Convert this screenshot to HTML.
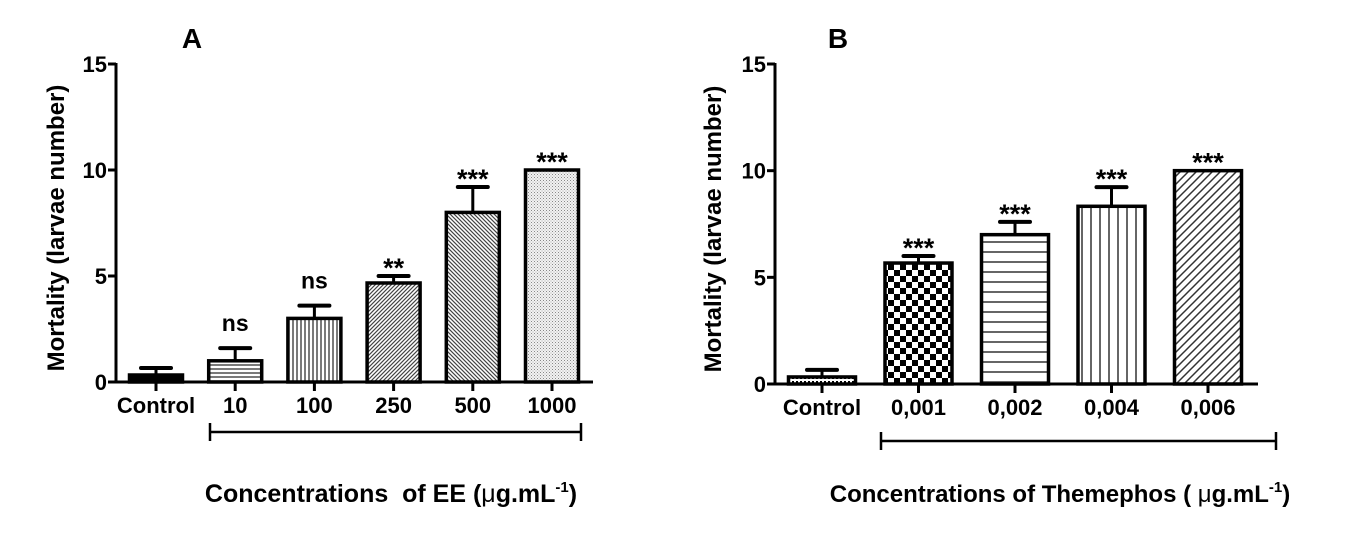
<!DOCTYPE html>
<html><head><meta charset="utf-8"><style>
html,body{margin:0;padding:0;background:#fff;}
svg{display:block;font-family:"Liberation Sans",Arial,sans-serif;font-weight:bold;}
</style></head><body>
<svg id="chart" width="1345" height="539" viewBox="0 0 1345 539" xmlns="http://www.w3.org/2000/svg">
<defs>
<pattern id="pSolid" width="4" height="4" patternUnits="userSpaceOnUse"><rect width="4" height="4" fill="#000"/></pattern>
<pattern id="pH" width="6" height="4" patternUnits="userSpaceOnUse"><rect width="6" height="4" fill="#fff"/><line x1="0" y1="1" x2="6" y2="1" stroke="#222" stroke-width="1.2"/></pattern>
<pattern id="pV" width="4" height="6" patternUnits="userSpaceOnUse"><rect width="4" height="6" fill="#fff"/><line x1="1" y1="0" x2="1" y2="6" stroke="#222" stroke-width="1.2"/></pattern>
<pattern id="pD1" width="4" height="4" patternUnits="userSpaceOnUse"><rect width="4" height="4" fill="#fff"/><path d="M-1,1 L1,-1 M0,4 L4,0 M3,5 L5,3" stroke="#444" stroke-width="1.2"/></pattern>
<pattern id="pD2" width="4" height="4" patternUnits="userSpaceOnUse"><rect width="4" height="4" fill="#fff"/><path d="M-1,3 L1,5 M0,0 L4,4 M3,-1 L5,1" stroke="#444" stroke-width="1.2"/></pattern>
<pattern id="pDot" width="3" height="3" patternUnits="userSpaceOnUse"><rect width="3" height="3" fill="#f2f2f2"/><rect x="0" y="0" width="1" height="1" fill="#888"/><rect x="1.5" y="1.5" width="1" height="1" fill="#aaa"/></pattern>
<pattern id="pCtrlB" width="4" height="4" patternUnits="userSpaceOnUse"><rect width="4" height="4" fill="#fff"/><rect x="0" y="1" width="2" height="2" fill="#000"/></pattern>
<pattern id="pCheck" width="12" height="12" patternUnits="userSpaceOnUse"><rect width="12" height="12" fill="#fff"/><rect width="6" height="6" fill="#000"/><rect x="6" y="6" width="6" height="6" fill="#000"/></pattern>
<pattern id="pH2" width="8" height="10" patternUnits="userSpaceOnUse"><rect width="8" height="10" fill="#fff"/><line x1="0" y1="2" x2="8" y2="2" stroke="#333" stroke-width="1.5"/></pattern>
<pattern id="pV2" width="9" height="8" patternUnits="userSpaceOnUse"><rect width="9" height="8" fill="#fff"/><line x1="2" y1="0" x2="2" y2="8" stroke="#333" stroke-width="1.5"/></pattern>
<pattern id="pD3" width="8" height="8" patternUnits="userSpaceOnUse"><rect width="8" height="8" fill="#fff"/><path d="M-2,2 L2,-2 M0,8 L8,0 M6,10 L10,6" stroke="#333" stroke-width="1.5"/></pattern>
</defs>
</svg>
<script>
const catsA = ["Control","10","100","250","500","1000"];
const valsA = [0.33, 1.0, 3.0, 4.67, 8.0, 10.0];
const errA  = [0.33, 0.6, 0.6, 0.33, 1.2, 0.0];
const sigA  = ["", "ns", "ns", "**", "***", "***"];
const catsB = ["Control","0,001","0,002","0,004","0,006"];
const valsB = [0.33, 5.67, 7.0, 8.33, 10.0];
const errB  = [0.33, 0.33, 0.6, 0.9, 0.0];
const sigB  = ["", "***", "***", "***", "***"];
const yTicks = [0, 5, 10, 15];

const NS = "http://www.w3.org/2000/svg";
const svg = document.getElementById('chart');
function mk(tag, attrs, parent){const e=document.createElementNS(NS,tag);for(const k in attrs)e.setAttribute(k,attrs[k]);(parent||svg).appendChild(e);return e;}

function panel(cfg){
  const g = mk('g',{});
  
  
  const y = v => cfg.y0 - (v/15)*(cfg.y0-cfg.y15);
  const x = i => cfg.x0 + i*cfg.step;
  const bw = cfg.bw;
  cfg.vals.forEach((v,i)=>{
    const top=y(v+cfg.err[i]);
    if(cfg.err[i]>0){
      const el=mk('line',{x1:x(i),x2:x(i),y1:y(v),y2:top,stroke:'#000','stroke-width':3},g);
      
      
      const cap=mk('line',{x1:x(i)-15,x2:x(i)+15,y1:top,y2:top,stroke:'#000','stroke-width':4,'stroke-linecap':'round'},g);
      
      
    }
    const r=mk('rect',{x:x(i)-bw/2,y:y(v),width:bw,height:cfg.y0-y(v),fill:'url(#'+cfg.fills[i]+')',stroke:'#000','stroke-width':3.5},g);
    
    
    if(cfg.sig[i]){
      const isStar=cfg.sig[i].indexOf('*')>=0;
      const t=mk('text',{x:x(i),y:isStar?top+1:top-17,'text-anchor':'middle','font-size':isStar?27:23},g);
      t.textContent=cfg.sig[i];
      
      
    }
    const tk=mk('line',{x1:x(i),x2:x(i),y1:cfg.y0,y2:cfg.y0+9,stroke:'#000','stroke-width':3},g);
    
    
    const lb=mk('text',{x:x(i),y:cfg.y0+31,'text-anchor':'middle','font-size':22},g);
    lb.textContent=cfg.cats[i];
    
    
  });
  const ya=mk('line',{x1:cfg.ax,x2:cfg.ax,y1:cfg.y15-1,y2:cfg.y0+1.5,stroke:'#000','stroke-width':3},g);
  
  
  const xa=mk('line',{x1:cfg.ax-8,x2:cfg.xEnd,y1:cfg.y0,y2:cfg.y0,stroke:'#000','stroke-width':3},g);
  
  
  yTicks.forEach(v=>{
    const t=mk('line',{x1:cfg.ax-8,x2:cfg.ax,y1:y(v),y2:y(v),stroke:'#000','stroke-width':3},g);
    
    
    const l=mk('text',{x:cfg.ax-9,y:y(v)+8,'text-anchor':'end','font-size':22},g);
    l.textContent=v;
    
    
  });
  const br=mk('path',{d:`M${cfg.brX1},${cfg.brY-9}V${cfg.brY+9}M${cfg.brX1},${cfg.brY}H${cfg.brX2}M${cfg.brX2},${cfg.brY-9}V${cfg.brY+9}`,stroke:'#000','stroke-width':2.5,fill:'none'},g);
  
  
  const pt=mk('text',{x:cfg.titleX,y:48,'text-anchor':'middle','font-size':28},g);
  pt.textContent=cfg.title;
  
  
  const cy=(cfg.y0+cfg.y15)/2+5;
  const yt=mk('text',{x:cfg.ytX,y:cy,'text-anchor':'middle','font-size':24,transform:`rotate(-90 ${cfg.ytX} ${cy})`},g);
  yt.textContent='Mortality (larvae number)';
  
  
  const xt=mk('text',{x:cfg.xtX,y:502,'text-anchor':'middle','font-size':cfg.xtSize,'font-weight':'bold'},g);
  xt.innerHTML=cfg.xt;
  
  
}

panel({name:'panel-a',cats:catsA,vals:valsA,err:errA,sig:sigA,fills:['pSolid','pH','pV','pD1','pD2','pDot'],
  ax:116,y0:382,y15:64,x0:156,step:79.2,bw:53,xEnd:593,brX1:210,brX2:581,brY:432,title:'A',titleX:192,ytX:64,
  xtX:391,xtSize:25,xt:'Concentrations&#160; of EE (<tspan font-weight="normal">μ</tspan>g.mL<tspan font-size="15" dy="-10">-1</tspan><tspan dy="10">)</tspan>'});
panel({name:'panel-b',cats:catsB,vals:valsB,err:errB,sig:sigB,fills:['pCtrlB','pCheck','pH2','pV2','pD3'],
  ax:775,y0:384,y15:64,x0:822,step:96.5,bw:67,xEnd:1258,brX1:881,brX2:1276,brY:441,title:'B',titleX:838,ytX:721,
  xtX:1060,xtSize:24,xt:'Concentrations of Themephos ( <tspan font-weight="normal">μ</tspan>g.mL<tspan font-size="15" dy="-10">-1</tspan><tspan dy="10">)</tspan>'});
</script>
</body></html>
